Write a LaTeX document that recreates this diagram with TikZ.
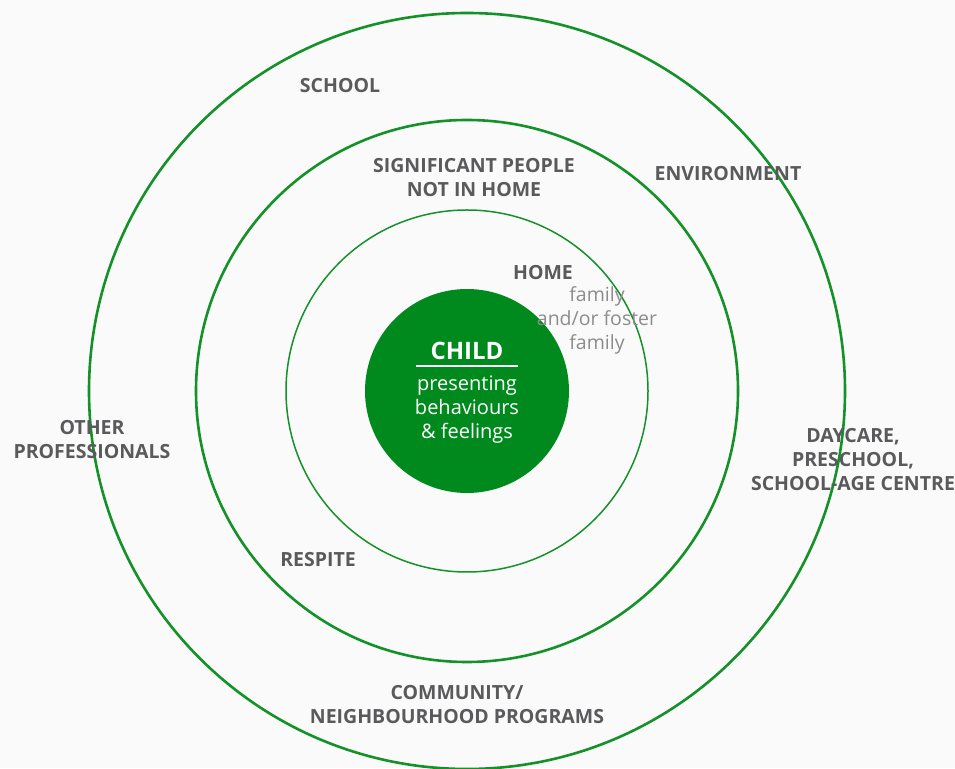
\documentclass[tikz,border=0pt]{standalone}
\usepackage{fontspec}
\setmainfont{Open Sans}
\usepackage{xcolor}
\definecolor{ringgreen}{RGB}{20,145,40}
\definecolor{childgreen}{RGB}{0,138,30}
\definecolor{labelgray}{RGB}{90,90,92}
\definecolor{softgray}{RGB}{140,140,140}
\tikzset{
  ring/.style={draw=ringgreen, line width=2.6pt},
  thinring/.style={draw=ringgreen, line width=1.5pt},
  lbl/.style={text=labelgray, font=\fontsize{19.5}{24}\selectfont\bfseries, align=center, inner sep=0pt},
  soft/.style={text=softgray, font=\fontsize{19.5}{24}\selectfont, align=center, inner sep=0pt},
  inchild/.style={text=white, font=\fontsize{20}{24}\selectfont, align=center, inner sep=0pt}
}

\begin{document}
\begin{tikzpicture}[x=1pt,y=1pt]
                % \draw[style=help lines] (0,0) grid (955,768);
                \fill[white!98!black] (0,0) rectangle (955,768);
                \useasboundingbox (0,0) rectangle (955,768);
                \coordinate (c) at (467,377);
                \draw[ring] (c) circle (378);
                \draw[ring] (c) circle (271);
                \draw[thinring] (c) circle (181);
                \fill[childgreen] (c) circle (102);
                \node[lbl] (school) at (340,682) {SCHOOL};
                \node[lbl] (signif) at (474,590) {SIGNIFICANT PEOPLE\\NOT IN HOME};
                \node[lbl] (environ) at (728,594) {ENVIRONMENT};
                \node[lbl] (home) at (543,495) {HOME};
                \node[soft] (family) at (597,448) {family\\and/or foster\\family};
                \node[text=white, font=\fontsize{24}{24}\selectfont\bfseries, inner sep=0pt] (child) at (467,417) {CHILD};
                \draw[white, line width=2.5pt] (416,402) -- (518,402);
                \node[inchild] (presenting) at (467,358) {presenting\\behaviours\\\&\ feelings};
                \node[lbl] (others) at (92,328) {OTHER\\PROFESSIONALS};
                \node[lbl] (daycare) at (853,308) {DAYCARE,\\PRESCHOOL,\\SCHOOL-AGE CENTRE};
                \node[lbl] (respite) at (318,208) {RESPITE};
                \node[lbl] (community) at (457,63) {COMMUNITY/\\NEIGHBOURHOOD PROGRAMS};
            \end{tikzpicture}
\end{document}
